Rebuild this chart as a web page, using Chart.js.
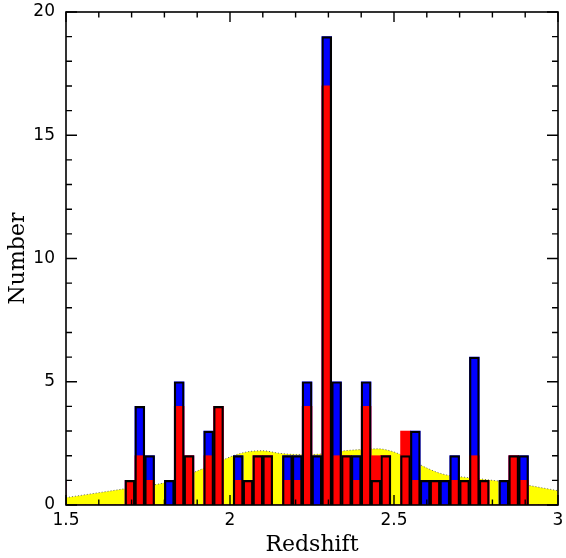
<!DOCTYPE html>
<html lang="en">
<head>
<meta charset="UTF-8"/>
<script src="https://cdn.jsdelivr.net/npm/chart.js"></script>
<style>
  html, body { margin: 0; padding: 0; background: #fff; }
</style>
</head>
<body>
<canvas id="zChart" width="566" height="558"></canvas>
<script>
// histogram bins: 0.03 wide, first bin starts at 1.47 (just left of the frame)
const binStart = 1.47;
const binWidth = 0.03;
const blueCounts = [1, 0, 0, 0, 0, 0, 0,
    1, 4, 2, 0, 1, 5, 2, 0, 3, 4, 0, 2, 1, 2, 2, 0, 2, 2, 5, 2, 19, 5, 2, 2, 5, 1, 2, 0,
    2, 3, 1, 1, 1, 2, 1, 6, 1, 0, 1, 2, 2, 0, 0, 0];
const redCounts = [1, 0, 0, 0, 0, 0, 0,
    1, 2, 1, 0, 0, 4, 2, 0, 2, 4, 0, 1, 1, 2, 2, 0, 1, 1, 4, 0, 17, 2, 2, 1, 4, 2, 2, 0,
    3, 1, 0, 1, 0, 1, 1, 2, 1, 0, 0, 2, 1, 0, 0, 0];

// smooth yellow distribution underneath
const bgRedshift = [1.50, 1.55, 1.60, 1.65, 1.70, 1.75, 1.80, 1.85, 1.90, 1.95, 2.00, 2.05, 2.10, 2.15, 2.20, 2.25,
    2.30, 2.35, 2.40, 2.45, 2.50, 2.55, 2.60, 2.65, 2.70, 2.75, 2.80, 2.85, 2.90, 2.95, 3.00];
const bgNumber = [0.30, 0.40, 0.50, 0.60, 0.70, 0.78, 0.90, 1.10, 1.38, 1.65, 1.95, 2.15, 2.20, 2.10, 2.05, 2.05,
    2.10, 2.20, 2.25, 2.28, 2.15, 1.85, 1.50, 1.25, 1.15, 1.08, 1.00, 0.92, 0.82, 0.70, 0.58];

const xTickValues = [1.5, 2, 2.5, 3];
const yTickValues = [0, 5, 10, 15, 20];

const binCenters = blueCounts.map((_, i) => +(binStart + binWidth * (i + 0.5)).toFixed(3));
const toXY = counts => counts.map((c, i) => ({x: binCenters[i], y: c}));

// box round the plot with inward ticks on all four sides
const frameTicks = {
    id: 'frameTicks',
    afterDatasetsDraw(chart) {
        const {ctx, chartArea: a, scales: {x, y}} = chart;
        ctx.save();
        ctx.strokeStyle = '#000';
        ctx.lineWidth = 1.4;
        ctx.beginPath();
        for (let v = 15; v <= 30; v++) {
            const px = x.getPixelForValue(v / 10);
            const len = v % 5 === 0 ? 10 : 5.5;
            ctx.moveTo(px, a.bottom); ctx.lineTo(px, a.bottom - len);
            ctx.moveTo(px, a.top); ctx.lineTo(px, a.top + len);
        }
        for (let v = 0; v <= 20; v++) {
            const py = y.getPixelForValue(v);
            const len = v % 5 === 0 ? 11 : 6;
            ctx.moveTo(a.left, py); ctx.lineTo(a.left + len, py);
            ctx.moveTo(a.right, py); ctx.lineTo(a.right - len, py);
        }
        ctx.stroke();
        ctx.lineWidth = 1.6;
        ctx.strokeRect(a.left, a.top, a.right - a.left, a.bottom - a.top);
        ctx.restore();
    }
};

// fixed axis boxes, no extra room asked for the end labels
const fixBox = size => scale => {
    if (scale.isHorizontal()) scale.height = size; else scale.width = size;
    scale.paddingTop = 0; scale.paddingBottom = 0;
    scale.paddingLeft = 0; scale.paddingRight = 0;
};

const barCommon = {
    type: 'bar',
    grouped: false,
    barPercentage: 1,
    categoryPercentage: 1,
    clip: 0
};

new Chart(document.getElementById('zChart'), {
    type: 'bar',
    data: {
        datasets: [
            Object.assign({}, barCommon, {
                label: 'outline',
                data: toXY(blueCounts),
                backgroundColor: 'rgba(0,0,0,0)',
                borderColor: '#000',
                borderWidth: 1.5,
                borderSkipped: 'bottom',
                order: 0
            }),
            Object.assign({}, barCommon, {
                label: 'red',
                data: toXY(redCounts),
                backgroundColor: '#ff0000',
                borderWidth: 0,
                order: 1
            }),
            Object.assign({}, barCommon, {
                label: 'blue',
                data: toXY(blueCounts),
                backgroundColor: '#0000ff',
                borderWidth: 0,
                order: 2
            }),
            {
                type: 'line',
                label: 'background',
                data: bgRedshift.map((z, i) => ({x: z, y: bgNumber[i]})),
                fill: 'origin',
                backgroundColor: '#ffff00',
                borderColor: '#666',
                borderWidth: 1,
                borderDash: [1, 2],
                pointRadius: 0,
                cubicInterpolationMode: 'monotone',
                order: 3
            }
        ]
    },
    options: {
        responsive: false,
        animation: false,
        layout: {autoPadding: false, padding: {left: 0, right: 8, top: 12, bottom: 0}},
        plugins: {legend: {display: false}, tooltip: {enabled: false}},
        scales: {
            x: {
                type: 'linear',
                min: 1.5,
                max: 3,
                offset: false,
                afterBuildTicks: scale => { scale.ticks = xTickValues.map(v => ({value: v})); },
                afterFit: fixBox(53),
                grid: {display: false, drawTicks: false},
                border: {display: false},
                ticks: {color: '#000', padding: 5, maxRotation: 0, autoSkip: false,
                    callback: v => String(v), font: {family: 'DejaVu Sans', size: 17}},
                title: {display: true, text: 'Redshift', color: '#000', padding: {top: 0, bottom: 0},
                    font: {family: 'DejaVu Serif', size: 22}}
            },
            y: {
                type: 'linear',
                min: 0,
                max: 20,
                afterBuildTicks: scale => { scale.ticks = yTickValues.map(v => ({value: v})); },
                afterFit: fixBox(66),
                grid: {display: false, drawTicks: false},
                border: {display: false},
                ticks: {color: '#000', padding: 11, callback: v => String(v),
                    font: {family: 'DejaVu Sans', size: 17}},
                title: {display: true, text: 'Number', color: '#000', padding: {top: 5, bottom: 0},
                    font: {family: 'DejaVu Serif', size: 22}}
            }
        }
    },
    plugins: [frameTicks]
});
</script>
</body>
</html>
